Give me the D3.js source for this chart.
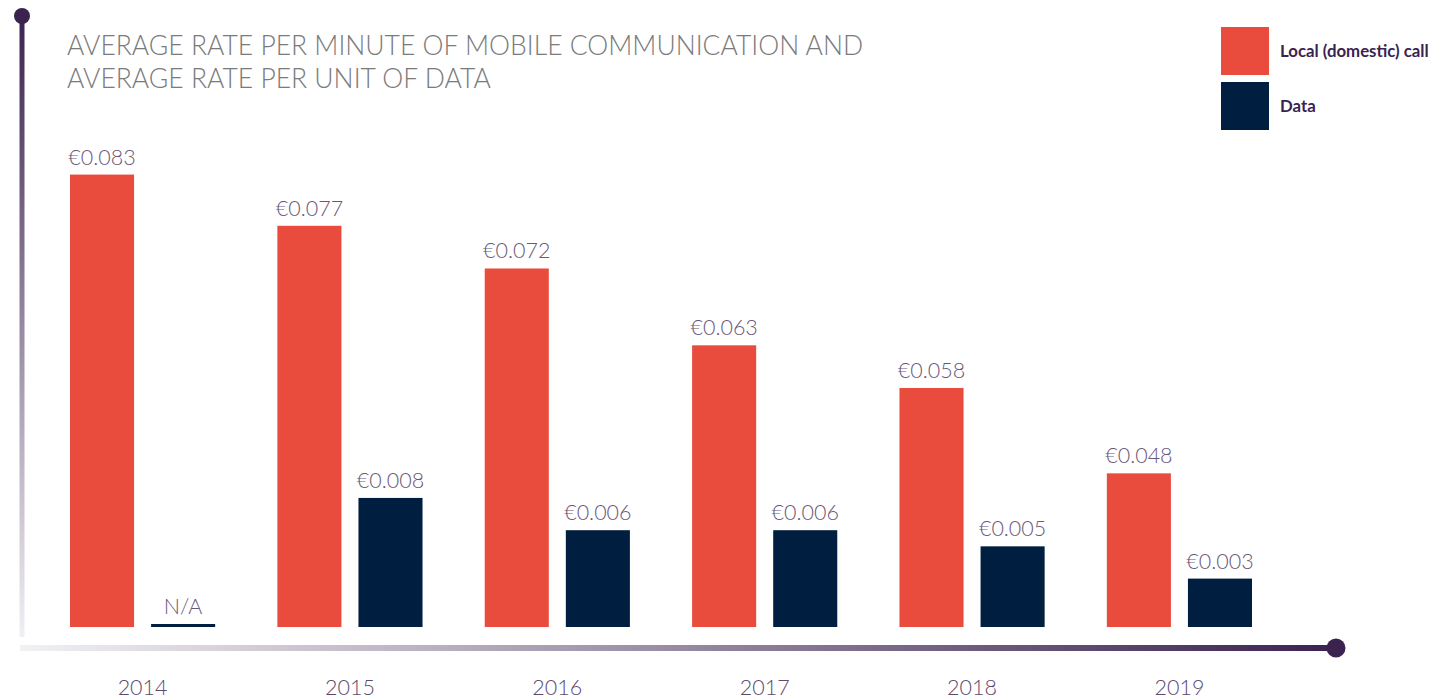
<!DOCTYPE html>
<html>
<head>
<meta charset="utf-8">
<script src="https://cdn.jsdelivr.net/npm/d3@7/dist/d3.min.js"></script>
<style>
  html, body { margin: 0; padding: 0; background: #fff; }
  svg { display: block; }
  text { font-family: Lato, "Open Sans", sans-serif; }
</style>
</head>
<body>
<svg id="chart" width="1452" height="700"></svg>
<script>
// ---- data ----
const years = ["2014", "2015", "2016", "2017", "2018", "2019"];
const localCall = [0.083, 0.077, 0.072, 0.063, 0.058, 0.048];
const dataRate = [null, 0.008, 0.006, 0.006, 0.005, 0.003];
const seriesNames = ["Local (domestic) call", "Data"];
const titleLines = ["AVERAGE RATE PER MINUTE OF MOBILE COMMUNICATION AND", "AVERAGE RATE PER UNIT OF DATA"];

// ---- layout ----
const baseY = 627, topY = 143;
const colors = ["#e94b3d", "#001e40"];
const purple = "#3b2350";

const svg = d3.select("#chart");
const defs = svg.append("defs");

const gV = defs.append("linearGradient").attr("id", "gv").attr("x1", 0).attr("y1", 0).attr("x2", 0).attr("y2", 1);
gV.append("stop").attr("offset", "0%").attr("stop-color", purple);
gV.append("stop").attr("offset", "100%").attr("stop-color", "#f1eff3");
const gH = defs.append("linearGradient").attr("id", "gh").attr("x1", 0).attr("y1", 0).attr("x2", 1).attr("y2", 0);
gH.append("stop").attr("offset", "0%").attr("stop-color", "#f3f1f4");
gH.append("stop").attr("offset", "100%").attr("stop-color", purple);

// scales
const x0 = d3.scaleBand().domain(years).range([70, 1252]).paddingInner(0.3).paddingOuter(0);
const x1 = d3.scaleBand().domain([0, 1]).range([0, x0.bandwidth()]).paddingInner(0.21);
// each series uses its own unit (per minute vs per unit of data)
const yLocal = d3.scaleLinear().domain([0.03, 0.0867]).range([baseY, topY]);
const yData = d3.scaleLinear().domain([0, 0.030]).range([baseY, topY]);
const yScales = [yLocal, yData];
const series = [localCall, dataRate];

// axes decorations
svg.append("rect").attr("x", 19.5).attr("y", 16).attr("width", 5).attr("height", 621).attr("fill", "url(#gv)");
svg.append("circle").attr("cx", 22).attr("cy", 16).attr("r", 8).attr("fill", purple);
svg.append("rect").attr("x", 20).attr("y", 645).attr("width", 1316).attr("height", 6).attr("fill", "url(#gh)");
svg.append("circle").attr("cx", 1336).attr("cy", 648).attr("r", 9.5).attr("fill", purple);

// title
svg.append("g").selectAll("text").data(titleLines).join("text")
  .attr("x", 67).attr("y", (d, i) => 55 + i * 33)
  .attr("font-size", 26.5).attr("font-weight", 300).attr("fill", "#7b7b7b")
  .text(d => d);

// bars
const groups = svg.append("g").selectAll("g").data(years).join("g")
  .attr("transform", d => `translate(${x0(d)},0)`);

series.forEach((vals, s) => {
  const y = yScales[s];
  groups.append("rect")
    .attr("x", x1(s)).attr("width", x1.bandwidth())
    .attr("y", (d, i) => vals[i] == null ? baseY - 3 : y(vals[i]))
    .attr("height", (d, i) => vals[i] == null ? 3 : baseY - y(vals[i]))
    .attr("fill", colors[s]);
  groups.append("text")
    .attr("x", x1(s) + x1.bandwidth() / 2)
    .attr("y", (d, i) => (vals[i] == null ? baseY - 3 : y(vals[i])) - 10)
    .attr("text-anchor", "middle").attr("font-size", 21.5).attr("font-weight", 300)
    .attr("fill", "#6a5879")
    .text((d, i) => vals[i] == null ? "N/A" : "€" + d3.format(".3f")(vals[i]));
});

// x axis labels
svg.append("g").selectAll("text").data(years).join("text")
  .attr("x", d => x0(d) + x0.bandwidth() / 2).attr("y", 695)
  .attr("text-anchor", "middle").attr("font-size", 21.5).attr("font-weight", 300)
  .attr("fill", "#5d4a6e").text(d => d);

// legend
const lg = svg.append("g").selectAll("g").data(seriesNames).join("g")
  .attr("transform", (d, i) => `translate(1221,${27 + i * 55})`);
lg.append("rect").attr("width", 48).attr("height", 48).attr("fill", (d, i) => colors[i]);
lg.append("text").attr("x", 59).attr("y", 30).attr("font-size", 16.8).attr("font-weight", 700)
  .attr("fill", purple).text(d => d);
</script>
</body>
</html>
